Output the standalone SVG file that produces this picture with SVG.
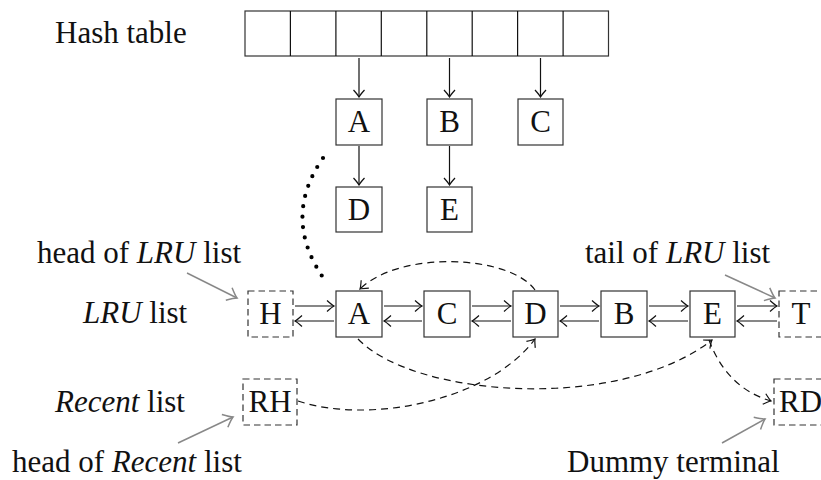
<svg xmlns="http://www.w3.org/2000/svg" width="821" height="480" viewBox="0 0 821 480">
<style>
text{font-family:"Liberation Serif","DejaVu Serif",serif;font-size:31px;fill:#111}
.lbl{text-anchor:middle}
.box{fill:#fff;stroke:#333;stroke-width:1.2}
.dbox{fill:#fff;stroke:#333;stroke-width:1.2;stroke-dasharray:6.5 4}
.ln{fill:none;stroke:#111;stroke-width:1.2}
.dash{fill:none;stroke:#111;stroke-width:1.2;stroke-dasharray:7 5}
.gray{fill:none;stroke:#888;stroke-width:1.5}
.dot{fill:none;stroke:#000;stroke-width:4.2;stroke-linecap:round;stroke-dasharray:0 10.5}
</style>
<defs>
<marker id="to" viewBox="-10 -8 12 16" refX="0" refY="0" markerWidth="12" markerHeight="16" markerUnits="userSpaceOnUse" orient="auto">
<path d="M-7,-5.5 Q-2,-1 0,0 Q-2,1 -7,5.5" fill="none" stroke="#111" stroke-width="1.2"/>
</marker>
<marker id="tog" viewBox="-12 -9 14 18" refX="0" refY="0" markerWidth="14" markerHeight="18" markerUnits="userSpaceOnUse" orient="auto">
<path d="M-9,-7 Q-2.5,-1.2 0,0 Q-2.5,1.2 -9,7" fill="none" stroke="#888" stroke-width="1.5"/>
</marker>
</defs>

<text x="55" y="43">Hash table</text>
<text x="37" y="263">head of <tspan font-style="italic">LRU</tspan> list</text>
<text x="83" y="323"><tspan font-style="italic">LRU</tspan> list</text>
<text x="585" y="263">tail of <tspan font-style="italic">LRU</tspan> list</text>
<text x="55" y="412"><tspan font-style="italic">Recent</tspan> list</text>
<text x="12" y="472">head of <tspan font-style="italic">Recent</tspan> list</text>
<text x="567" y="472">Dummy terminal</text>

<g id="hashtable">
<rect class="box" x="245" y="11" width="363.5" height="45"/>
<path class="ln" d="M290.4,11V56M335.9,11V56M381.3,11V56M426.8,11V56M472.2,11V56M517.6,11V56M563.1,11V56"/>
</g>

<g id="hA"><rect class="box" x="336" y="99" width="46" height="46"/><text class="lbl" x="359" y="132">A</text></g>
<g id="hB"><rect class="box" x="427" y="99" width="45" height="46"/><text class="lbl" x="449.5" y="132">B</text></g>
<g id="hC"><rect class="box" x="518" y="99" width="45" height="46"/><text class="lbl" x="540.5" y="132">C</text></g>
<g id="hD"><rect class="box" x="336" y="187" width="46" height="45"/><text class="lbl" x="359" y="220">D</text></g>
<g id="hE"><rect class="box" x="427" y="187" width="45" height="45"/><text class="lbl" x="449.5" y="220">E</text></g>

<g id="H"><rect class="dbox" x="248" y="291" width="45" height="46"/><text class="lbl" x="270.5" y="324">H</text></g>
<g id="A"><rect class="box" x="336" y="291" width="46" height="46"/><text class="lbl" x="359" y="324">A</text></g>
<g id="C"><rect class="box" x="424" y="291" width="46" height="46"/><text class="lbl" x="447" y="324">C</text></g>
<g id="D"><rect class="box" x="513" y="291" width="45" height="46"/><text class="lbl" x="535.5" y="324">D</text></g>
<g id="B"><rect class="box" x="601" y="291" width="46" height="46"/><text class="lbl" x="624" y="324">B</text></g>
<g id="E"><rect class="box" x="690" y="291" width="45" height="46"/><text class="lbl" x="712.5" y="324">E</text></g>
<g id="T"><rect class="dbox" x="779" y="291" width="46" height="46"/><text class="lbl" x="801" y="324">T</text></g>
<g id="RH"><rect class="dbox" x="243" y="379" width="54" height="46"/><text class="lbl" x="270" y="412">RH</text></g>
<g id="RD"><rect class="dbox" x="774" y="379" width="56" height="46"/><text x="779" y="412">RD</text></g>

<g id="connectors">
<path class="ln" marker-end="url(#to)" d="M359,58V97"/>
<path class="ln" marker-end="url(#to)" d="M449.5,58V97"/>
<path class="ln" marker-end="url(#to)" d="M540.5,58V97"/>
<path class="ln" marker-end="url(#to)" d="M359,146V185"/>
<path class="ln" marker-end="url(#to)" d="M449.5,146V185"/>

<path class="ln" marker-end="url(#to)" d="M295,306H334"/>
<path class="ln" marker-end="url(#to)" d="M334,321H295"/>
<path class="ln" marker-end="url(#to)" d="M384,306H422"/>
<path class="ln" marker-end="url(#to)" d="M422,321H384"/>
<path class="ln" marker-end="url(#to)" d="M472,306H511"/>
<path class="ln" marker-end="url(#to)" d="M511,321H472"/>
<path class="ln" marker-end="url(#to)" d="M560,306H599"/>
<path class="ln" marker-end="url(#to)" d="M599,321H560"/>
<path class="ln" marker-end="url(#to)" d="M649,306H688"/>
<path class="ln" marker-end="url(#to)" d="M688,321H649"/>
<path class="ln" marker-end="url(#to)" d="M737,306H777"/>
<path class="ln" marker-end="url(#to)" d="M777,321H737"/>

<path class="dot" d="M323,158Q280,220 327,283"/>

<path class="dash" marker-end="url(#to)" d="M535,290C510,255 400,250 360,289"/>
<path class="dash" marker-end="url(#to)" d="M358,339C415,398 620,412 712,340"/>
<path class="dash" marker-end="url(#to)" d="M298,401C370,425 490,400 535,339"/>
<path class="dash" marker-end="url(#to)" d="M709,340C720,370 740,392 771,401"/>

<path class="gray" marker-end="url(#tog)" d="M187,273L237,298"/>
<path class="gray" marker-end="url(#tog)" d="M725,275L775,298"/>
<path class="gray" marker-end="url(#tog)" d="M178,443L233,417"/>
<path class="gray" marker-end="url(#tog)" d="M722,443L765,419"/>
</g>
</svg>
